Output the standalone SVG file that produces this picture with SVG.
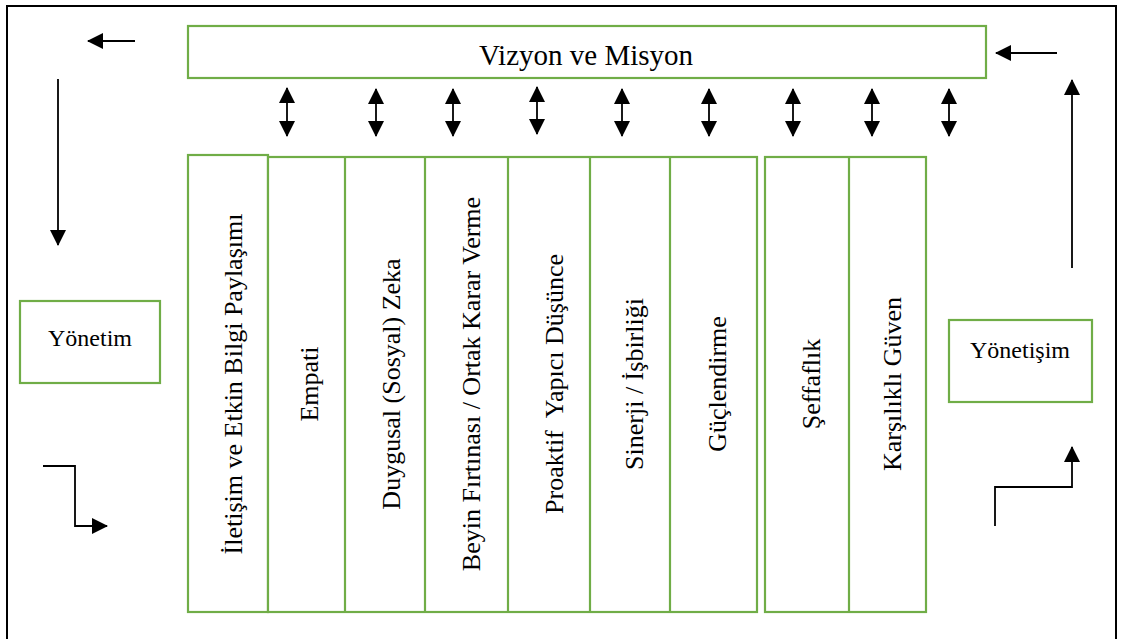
<svg xmlns="http://www.w3.org/2000/svg" width="1121" height="639" viewBox="0 0 1121 639">
<defs>
<style>
.box{fill:#fff;stroke:#70AD47;stroke-width:2.2}
.div{stroke:#70AD47;stroke-width:2.2}
.t{font-family:"Liberation Serif","Times New Roman",serif;fill:#000}
.col{font-size:26px;text-anchor:middle}
.arr{fill:none;stroke:#000;stroke-width:1.8}
</style>
<marker id="ah" markerUnits="userSpaceOnUse" markerWidth="16" markerHeight="16" viewBox="0 0 16 16" refX="15" refY="8" orient="auto-start-reverse">
<path d="M0,0 L16,8 L0,16 z" fill="#000"/>
</marker>
</defs>
<rect x="7" y="6" width="1109" height="660" fill="#fff" stroke="#000" stroke-width="2"/>

<g id="vizyon">
<rect class="box" x="188" y="26" width="798" height="52"/>
<text class="t" x="586" y="65" font-size="29" text-anchor="middle">Vizyon ve Misyon</text>
</g>

<g id="yonetim">
<rect class="box" x="20" y="301" width="140" height="82"/>
<text class="t" x="90" y="346" font-size="24" text-anchor="middle">Yönetim</text>
</g>

<g id="yonetisim">
<rect class="box" x="949" y="320" width="143" height="82"/>
<text class="t" x="1020" y="358" font-size="24" text-anchor="middle">Yönetişim</text>
</g>

<g id="col-iletisim">
<rect class="box" x="188" y="155" width="80" height="457"/>
<text class="t col" transform="translate(242,384) rotate(-90)">İletişim ve Etkin Bilgi Paylaşımı</text>
</g>
<g id="group1">
<rect class="box" x="268" y="157" width="489" height="455"/>
</g>
<g id="col-empati">
<line class="div" x1="345" y1="157" x2="345" y2="612"/>
<text class="t col" transform="translate(318,384) rotate(-90)">Empati</text>
</g>
<g id="col-duygusal">
<line class="div" x1="425" y1="157" x2="425" y2="612"/>
<text class="t col" transform="translate(400,384) rotate(-90)">Duygusal (Sosyal) Zeka</text>
</g>
<g id="col-beyin">
<line class="div" x1="508" y1="157" x2="508" y2="612"/>
<text class="t col" transform="translate(480,384) rotate(-90)">Beyin Fırtınası / Ortak Karar Verme</text>
</g>
<g id="col-proaktif">
<line class="div" x1="590" y1="157" x2="590" y2="612"/>
<text class="t col" xml:space="preserve" transform="translate(563,384) rotate(-90)">Proaktif  Yapıcı Düşünce</text>
</g>
<g id="col-sinerji">
<line class="div" x1="670" y1="157" x2="670" y2="612"/>
<text class="t col" transform="translate(643,384) rotate(-90)">Sinerji / İşbirliği</text>
</g>
<g id="col-guclendirme">
<text class="t col" transform="translate(726,384) rotate(-90)">Güçlendirme</text>
</g>
<g id="group2">
<rect class="box" x="765" y="157" width="161" height="455"/>
</g>
<g id="col-seffaflik">
<line class="div" x1="849" y1="157" x2="849" y2="612"/>
<text class="t col" transform="translate(820,384) rotate(-90)">Şeffaflık</text>
</g>
<g id="col-guven">
<text class="t col" transform="translate(901,384) rotate(-90)">Karşılıklı Güven</text>
</g>

<g id="connectors" class="arr">
<line x1="135" y1="41" x2="88" y2="41" marker-end="url(#ah)"/>
<line x1="1057" y1="53" x2="996" y2="53" marker-end="url(#ah)"/>
<line x1="58" y1="79" x2="58" y2="245" marker-end="url(#ah)"/>
<line x1="1072" y1="268" x2="1072" y2="80" marker-end="url(#ah)"/>
<polyline points="43,466 75,466 75,526 107,526" marker-end="url(#ah)"/>
<polyline points="995,526 995,487 1072,487 1072,447" marker-end="url(#ah)"/>
<line x1="287" y1="88" x2="287" y2="136" marker-start="url(#ah)" marker-end="url(#ah)"/>
<line x1="376" y1="89" x2="376" y2="136" marker-start="url(#ah)" marker-end="url(#ah)"/>
<line x1="453" y1="89" x2="453" y2="136" marker-start="url(#ah)" marker-end="url(#ah)"/>
<line x1="537" y1="87" x2="537" y2="134" marker-start="url(#ah)" marker-end="url(#ah)"/>
<line x1="622" y1="89" x2="622" y2="136" marker-start="url(#ah)" marker-end="url(#ah)"/>
<line x1="709" y1="89" x2="709" y2="136" marker-start="url(#ah)" marker-end="url(#ah)"/>
<line x1="793" y1="89" x2="793" y2="136" marker-start="url(#ah)" marker-end="url(#ah)"/>
<line x1="872" y1="89" x2="872" y2="136" marker-start="url(#ah)" marker-end="url(#ah)"/>
<line x1="949" y1="89" x2="949" y2="136" marker-start="url(#ah)" marker-end="url(#ah)"/>
</g>
</svg>
